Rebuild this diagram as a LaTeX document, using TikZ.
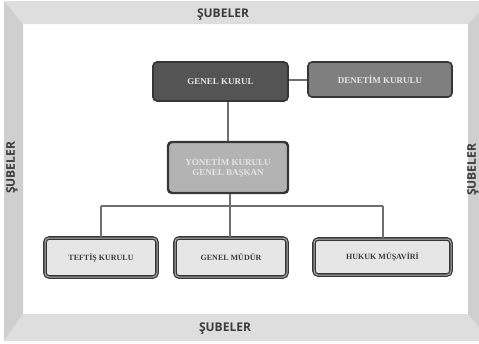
\documentclass[tikz,border=0pt]{standalone}
\usepackage{fontspec}
\setmainfont{Liberation Serif}
\newfontfamily\bandfont{Open Sans}
\usepackage{tikz}
\usetikzlibrary{positioning}

\definecolor{bandtop}{HTML}{DEDEDF}
\definecolor{bandside}{HTML}{CFCFD0}
\definecolor{bandtext}{HTML}{3C3C3C}
\definecolor{boxdark}{HTML}{545454}
\definecolor{boxmid}{HTML}{7F7F7F}
\definecolor{boxlight}{HTML}{B3B3B3}
\definecolor{boxpale}{HTML}{E6E6E6}
\definecolor{edge}{HTML}{363636}
\definecolor{link}{HTML}{6E6E6E}

\begin{document}
\begin{tikzpicture}[x = 1pt, y = -1pt,
  unit/.style = {shape = rectangle, rounded corners = 4pt, draw = edge, align = center, font = \bfseries\fontsize{9}{10}\selectfont, inner sep = 0pt},
  topunit/.style = {unit, line width = 1.6pt, text = white!90!black},
  subunit/.style = {unit, draw = edge, double = boxlight, double distance = 1pt, line width = 1.3pt, fill = boxpale, text = bandtext, font = \bfseries\fontsize{8}{9}\selectfont},
  bandlabel/.style = {font = \bandfont\bfseries\fontsize{12}{12}\selectfont, text = bandtext, inner sep = 0pt},
  link/.style = {draw = link, line width = 2pt}]
\useasboundingbox (0,0) rectangle (479,343);
\clip (0,0) rectangle (479,343);
% frame
\fill[white] (0,0) rectangle (479,343);
\fill[bandtop]  (4,1) -- (490,1) -- (468,24) -- (23,24) -- cycle;
\fill[bandtop]  (4,341) -- (490,341) -- (468,314) -- (23,314) -- cycle;
\fill[bandside] (4,1) -- (23,24) -- (23,314) -- (4,341) -- cycle;
\fill[bandside] (490,1) -- (468,24) -- (468,314) -- (490,341) -- cycle;
\node[bandlabel] (subetop) at (223,15) {ŞUBELER};
\node[bandlabel] (subebottom) at (225,329) {ŞUBELER};
\node[bandlabel, rotate = 90] (subeleft) at (12,168) {ŞUBELER};
\node[bandlabel, rotate = 90] (suberight) at (473,170) {ŞUBELER};
% units
\node[topunit, fill = boxdark, minimum width = 135pt, minimum height = 39pt] (genel) at (220.5,81.5) {GENEL KURUL};
\node[topunit, fill = boxmid, minimum width = 144pt, minimum height = 35pt] (denetim) at (380,79.5) {DENETİM KURULU};
\node[topunit, fill = boxlight, line width = 2.4pt, minimum width = 120pt, minimum height = 51pt] (yonetim) at (228,167.5) {YÖNETİM KURULU\\GENEL BAŞKAN};
\node[subunit, minimum width = 112pt, minimum height = 39pt] (teftis) at (101,257.5) {TEFTİŞ KURULU};
\node[subunit, minimum width = 112pt, minimum height = 39pt] (mudur) at (231,257.5) {GENEL MÜDÜR};
\node[subunit, minimum width = 137pt, minimum height = 36pt] (hukuk) at (382.5,257) {HUKUK MÜŞAVİRİ};
% links
\coordinate (bar) at (230,206);
\path[link] (genel.east |- denetim.west) -- (denetim.west);
\path[link] (genel.south -| yonetim.north) -- (yonetim.north);
\path[link] (yonetim.south -| bar) -- (bar);
\path[link] (teftis.north |- bar) -- (hukuk.north |- bar);
\path[link] (teftis.north |- bar) -- (teftis.north);
\path[link] (bar) -- (mudur.north -| bar);
\path[link] (hukuk.north |- bar) -- (hukuk.north);
\end{tikzpicture}
\end{document}
